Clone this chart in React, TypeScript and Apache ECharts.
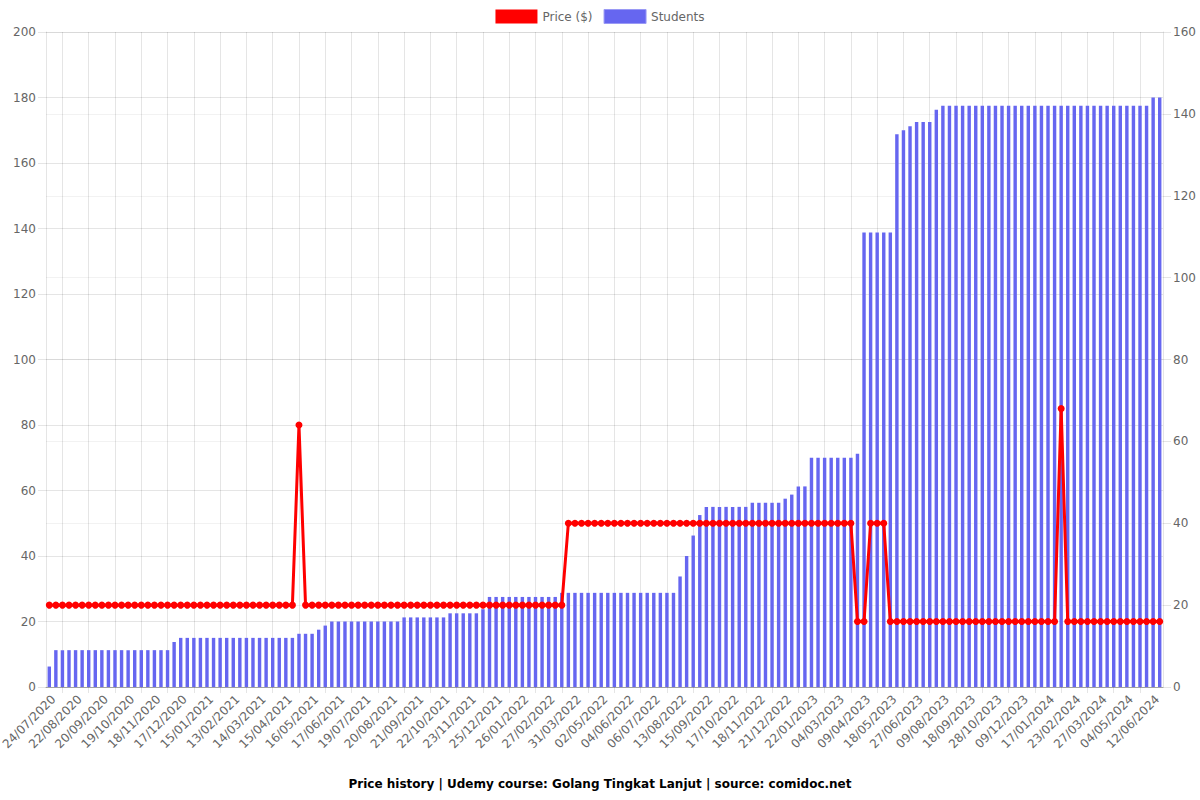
import React, { useEffect, useRef } from "react";
import * as echarts from "echarts";

const dates: string[] = [
  "24/07/2020", "31/07/2020", "07/08/2020", "15/08/2020",
  "22/08/2020", "29/08/2020", "05/09/2020", "13/09/2020",
  "20/09/2020", "27/09/2020", "04/10/2020", "12/10/2020",
  "19/10/2020", "26/10/2020", "03/11/2020", "10/11/2020",
  "18/11/2020", "25/11/2020", "02/12/2020", "10/12/2020",
  "17/12/2020", "24/12/2020", "31/12/2020", "08/01/2021",
  "15/01/2021", "22/01/2021", "29/01/2021", "06/02/2021",
  "13/02/2021", "20/02/2021", "27/02/2021", "07/03/2021",
  "14/03/2021", "22/03/2021", "30/03/2021", "07/04/2021",
  "15/04/2021", "23/04/2021", "01/05/2021", "08/05/2021",
  "16/05/2021", "24/05/2021", "01/06/2021", "09/06/2021",
  "17/06/2021", "25/06/2021", "03/07/2021", "11/07/2021",
  "19/07/2021", "27/07/2021", "04/08/2021", "12/08/2021",
  "20/08/2021", "28/08/2021", "05/09/2021", "13/09/2021",
  "21/09/2021", "29/09/2021", "07/10/2021", "14/10/2021",
  "22/10/2021", "30/10/2021", "07/11/2021", "15/11/2021",
  "23/11/2021", "01/12/2021", "09/12/2021", "17/12/2021",
  "25/12/2021", "02/01/2022", "10/01/2022", "18/01/2022",
  "26/01/2022", "03/02/2022", "11/02/2022", "19/02/2022",
  "27/02/2022", "07/03/2022", "15/03/2022", "23/03/2022",
  "31/03/2022", "08/04/2022", "16/04/2022", "24/04/2022",
  "02/05/2022", "10/05/2022", "18/05/2022", "27/05/2022",
  "04/06/2022", "12/06/2022", "20/06/2022", "28/06/2022",
  "06/07/2022", "15/07/2022", "25/07/2022", "04/08/2022",
  "13/08/2022", "21/08/2022", "29/08/2022", "07/09/2022",
  "15/09/2022", "23/09/2022", "01/10/2022", "09/10/2022",
  "17/10/2022", "25/10/2022", "02/11/2022", "10/11/2022",
  "18/11/2022", "26/11/2022", "05/12/2022", "13/12/2022",
  "21/12/2022", "29/12/2022", "06/01/2023", "14/01/2023",
  "22/01/2023", "01/02/2023", "11/02/2023", "21/02/2023",
  "04/03/2023", "13/03/2023", "22/03/2023", "31/03/2023",
  "09/04/2023", "19/04/2023", "29/04/2023", "08/05/2023",
  "18/05/2023", "28/05/2023", "07/06/2023", "17/06/2023",
  "27/06/2023", "08/07/2023", "19/07/2023", "29/07/2023",
  "09/08/2023", "19/08/2023", "29/08/2023", "08/09/2023",
  "18/09/2023", "28/09/2023", "08/10/2023", "18/10/2023",
  "28/10/2023", "07/11/2023", "18/11/2023", "28/11/2023",
  "09/12/2023", "19/12/2023", "29/12/2023", "07/01/2024",
  "17/01/2024", "26/01/2024", "04/02/2024", "14/02/2024",
  "23/02/2024", "02/03/2024", "10/03/2024", "18/03/2024",
  "27/03/2024", "05/04/2024", "15/04/2024", "24/04/2024",
  "04/05/2024", "14/05/2024", "24/05/2024", "02/06/2024",
  "12/06/2024", "21/06/2024",
];

const price: number[] = [
  25, 25, 25, 25, 25, 25, 25, 25, 25, 25,
  25, 25, 25, 25, 25, 25, 25, 25, 25, 25,
  25, 25, 25, 25, 25, 25, 25, 25, 25, 25,
  25, 25, 25, 25, 25, 25, 25, 25, 80, 25,
  25, 25, 25, 25, 25, 25, 25, 25, 25, 25,
  25, 25, 25, 25, 25, 25, 25, 25, 25, 25,
  25, 25, 25, 25, 25, 25, 25, 25, 25, 25,
  25, 25, 25, 25, 25, 25, 25, 25, 25, 50,
  50, 50, 50, 50, 50, 50, 50, 50, 50, 50,
  50, 50, 50, 50, 50, 50, 50, 50, 50, 50,
  50, 50, 50, 50, 50, 50, 50, 50, 50, 50,
  50, 50, 50, 50, 50, 50, 50, 50, 50, 50,
  50, 50, 50, 20, 20, 50, 50, 50, 20, 20,
  20, 20, 20, 20, 20, 20, 20, 20, 20, 20,
  20, 20, 20, 20, 20, 20, 20, 20, 20, 20,
  20, 20, 20, 20, 85, 20, 20, 20, 20, 20,
  20, 20, 20, 20, 20, 20, 20, 20, 20, 20,
];

const students: number[] = [
  5, 9, 9, 9, 9, 9, 9, 9, 9, 9,
  9, 9, 9, 9, 9, 9, 9, 9, 9, 11,
  12, 12, 12, 12, 12, 12, 12, 12, 12, 12,
  12, 12, 12, 12, 12, 12, 12, 12, 13, 13,
  13, 14, 15, 16, 16, 16, 16, 16, 16, 16,
  16, 16, 16, 16, 17, 17, 17, 17, 17, 17,
  17, 18, 18, 18, 18, 18, 19, 22, 22, 22,
  22, 22, 22, 22, 22, 22, 22, 22, 23, 23,
  23, 23, 23, 23, 23, 23, 23, 23, 23, 23,
  23, 23, 23, 23, 23, 23, 27, 32, 37, 42,
  44, 44, 44, 44, 44, 44, 44, 45, 45, 45,
  45, 45, 46, 47, 49, 49, 56, 56, 56, 56,
  56, 56, 56, 57, 111, 111, 111, 111, 111, 135,
  136, 137, 138, 138, 138, 141, 142, 142, 142, 142,
  142, 142, 142, 142, 142, 142, 142, 142, 142, 142,
  142, 142, 142, 142, 142, 142, 142, 142, 142, 142,
  142, 142, 142, 142, 142, 142, 142, 142, 144, 144,
];

const priceTicks = [0, 20, 40, 60, 80, 100, 120, 140, 160, 180, 200];
const studentTicks = [0, 20, 40, 60, 80, 100, 120, 140, 160];

const FONT = "DejaVu Sans";
const GRID = "rgba(0,0,0,0.1)";

export default function App() {
  const ref = useRef<HTMLDivElement>(null);

  useEffect(() => {
    if (!ref.current) return;
    const chart = echarts.init(ref.current, null, { renderer: "svg" });
    const tickInterval = (i: number) => i % 4 === 2;
    chart.setOption({
      animation: false,
      textStyle: { fontFamily: FONT },
      title: {
        text: "Price history | Udemy course: Golang Tingkat Lanjut | source: comidoc.net",
        left: "center",
        top: 773,
        textStyle: { fontFamily: FONT, fontSize: 12, fontWeight: "bold", color: "#000" },
      },
      legend: {
        top: 4,
        left: "center",
        itemWidth: 42,
        itemHeight: 14,
        itemGap: 11,
        textStyle: { fontFamily: FONT, fontSize: 12, color: "#666" },
        data: [
          { name: "Price ($)", icon: "rect", itemStyle: { color: "#ff0000" } },
          { name: "Students", icon: "rect", itemStyle: { color: "#6666f0", borderColor: "#9a9af5", borderWidth: 1 } },
        ],
      },
      grid: { left: 46, right: 37, top: 32, bottom: 113, containLabel: false, outerBoundsMode: "none" },
      xAxis: {
        type: "category",
        data: dates,
        boundaryGap: true,
        axisLine: { show: true, lineStyle: { color: "rgba(0,0,0,0.25)" } },
        axisTick: {
          show: true,
          interval: tickInterval,
          alignWithLabel: true,
          length: 6,
          lineStyle: { color: GRID },
        },
        splitLine: {
          show: true,
          interval: tickInterval,
          alignWithLabel: true,
          lineStyle: { color: GRID },
        },
        axisLabel: {
          interval: 3,
          rotate: 45,
          margin: 6,
          verticalAlign: "top",
          fontSize: 12,
          color: "#666",
          fontFamily: FONT,
        },
      },
      yAxis: [
        {
          type: "value",
          position: "left",
          min: priceTicks[0],
          max: priceTicks[priceTicks.length - 1],
          interval: 20,
          axisLine: { show: true, lineStyle: { color: GRID } },
          axisTick: { show: true, length: 8, lineStyle: { color: GRID } },
          splitLine: { show: true, lineStyle: { color: GRID } },
          axisLabel: { fontSize: 12, color: "#666", margin: 10, fontFamily: FONT },
        },
        {
          type: "value",
          position: "right",
          min: studentTicks[0],
          max: studentTicks[studentTicks.length - 1],
          interval: 20,
          axisLine: { show: true, lineStyle: { color: GRID } },
          axisTick: { show: true, length: 8, lineStyle: { color: GRID } },
          splitLine: { show: true, lineStyle: { color: "rgba(0,0,0,0.05)" } },
          axisLabel: { fontSize: 12, color: "#666", margin: 10, fontFamily: FONT },
        },
      ],
      series: [
        {
          name: "Price ($)",
          type: "line",
          yAxisIndex: 0,
          data: price,
          z: 5,
          symbol: "circle",
          symbolSize: 7,
          showAllSymbol: true,
          lineStyle: { color: "#ff0000", width: 3 },
          itemStyle: { color: "#ff0000" },
        },
        {
          name: "Students",
          type: "bar",
          yAxisIndex: 1,
          data: students,
          z: 2,
          barWidth: "52%",
          itemStyle: { color: "#6666f0" },
        },
      ],
    });
    return () => chart.dispose();
  }, []);

  return (
    <div
      ref={ref}
      style={{ position: "absolute", left: 0, top: 0, width: 1200, height: 800, background: "#fff" }}
    />
  );
}
